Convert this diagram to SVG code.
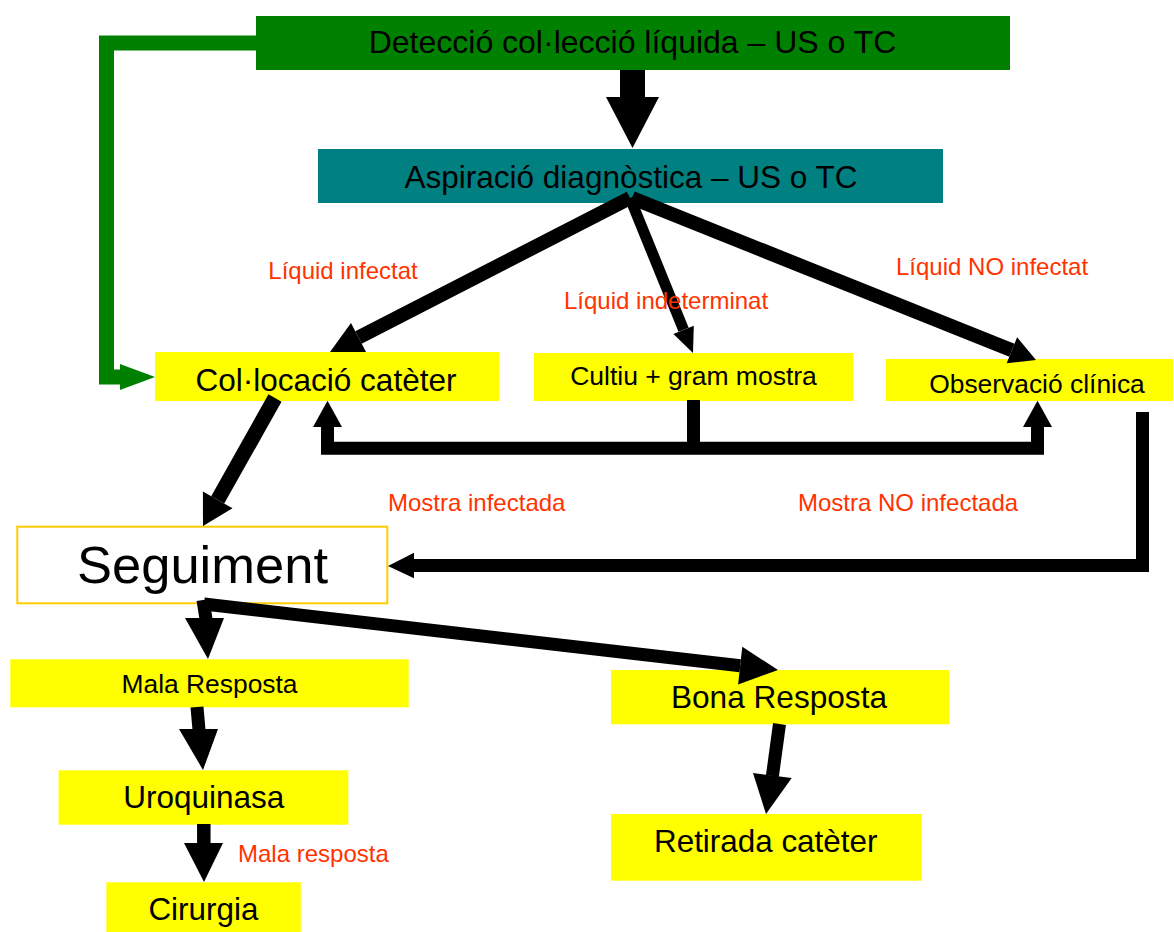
<svg xmlns="http://www.w3.org/2000/svg" width="1174" height="932" viewBox="0 0 1174 932">
  <style>
    text { font-family: "Liberation Sans", Arial, sans-serif; fill: #000; }
    .mid { text-anchor: middle; }
    .lbl { fill: #FF3300; font-size: 24px; }
    .yel { fill: #FFFF00; }
    .ln { fill: none; stroke: #000; stroke-linecap: butt; stroke-linejoin: miter; }
    .hd { fill: #000; }
  </style>
  <rect width="1174" height="932" fill="#FFFFFF"/>

  <g id="green-link">
    <polyline points="258,43 106.5,43 106.5,377 122,377" fill="none" stroke="#008000" stroke-width="15" stroke-linejoin="miter"/>
    <polygon points="120,364 155,377 120,390" fill="#008000"/>
  </g>

  <g id="n-deteccio">
    <rect x="256" y="16" width="754" height="54" fill="#008000"/>
    <text class="mid" x="632.5" y="53.3" font-size="32">Detecció col·lecció líquida – US o TC</text>
  </g>
  <g id="n-aspiracio">
    <rect x="318" y="149" width="625" height="54" fill="#008080"/>
    <text class="mid" x="631" y="188" font-size="31.5">Aspiració diagnòstica – US o TC</text>
  </g>
  <g id="n-collocacio">
    <rect class="yel" x="155" y="352" width="344" height="49"/>
    <text class="mid" x="326" y="390.7" font-size="31.5">Col·locació catèter</text>
  </g>
  <g id="n-cultiu">
    <rect class="yel" x="534" y="353" width="319" height="48"/>
    <text class="mid" x="693.5" y="385" font-size="26.5">Cultiu + gram mostra</text>
  </g>
  <g id="n-observacio">
    <rect class="yel" x="886" y="359" width="287" height="42"/>
    <text class="mid" x="1037" y="392.7" font-size="26.4">Observació clínica</text>
  </g>
  <g id="n-seguiment">
    <rect x="17.3" y="526.7" width="370" height="76.6" fill="#FFFFFF" stroke="#FFCC00" stroke-width="2"/>
    <text class="mid" x="202.5" y="583.3" font-size="52.5">Seguiment</text>
  </g>
  <g id="n-mala">
    <rect class="yel" x="10.3" y="659.3" width="398.4" height="48"/>
    <text class="mid" x="209.5" y="692.7" font-size="26.4">Mala Resposta</text>
  </g>
  <g id="n-uroquinasa">
    <rect class="yel" x="58.6" y="770.3" width="289.7" height="54.4"/>
    <text class="mid" x="203.7" y="808.3" font-size="31.5">Uroquinasa</text>
  </g>
  <g id="n-cirurgia">
    <rect class="yel" x="106.4" y="882.3" width="194.4" height="52"/>
    <text class="mid" x="203.4" y="920" font-size="31.4">Cirurgia</text>
  </g>
  <g id="n-bona">
    <rect class="yel" x="611" y="670" width="338" height="54.3"/>
    <text class="mid" x="779" y="708.3" font-size="31.6">Bona Resposta</text>
  </g>
  <g id="n-retirada">
    <rect class="yel" x="611" y="814" width="310.7" height="66.7"/>
    <text class="mid" x="765.7" y="852.3" font-size="31.4">Retirada catèter</text>
  </g>

  <g id="connectors">
    <!-- deteccio -> aspiracio -->
    <rect x="620" y="70" width="25" height="28" class="hd"/>
    <polygon class="hd" points="606,97 659,97 632.5,148"/>
    <!-- aspiracio -> collocacio -->
    <line class="ln" x1="630" y1="198" x2="358.5" y2="337.4" stroke-width="14"/>
    <polygon class="hd" points="330,352 366,352 351,323"/>
    <!-- aspiracio -> cultiu -->
    <line class="ln" x1="630" y1="198" x2="683.6" y2="329.8" stroke-width="11"/>
    <polygon class="hd" points="693,353 673.4,333.9 693.8,325.7"/>
    <!-- aspiracio -> observacio -->
    <line class="ln" x1="632" y1="198" x2="1011.9" y2="350.3" stroke-width="14"/>
    <polygon class="hd" points="1036,360 1006.7,363.3 1017.1,337.3"/>
    <!-- cultiu -> bracket -> collocacio / observacio -->
    <line class="ln" x1="693.5" y1="400" x2="693.5" y2="448" stroke-width="13"/>
    <polyline class="ln" points="327.5,426 327.5,448.3 1037.5,448.3 1037.5,426" stroke-width="13"/>
    <polygon class="hd" points="313,427 342,427 327.5,400.7"/>
    <polygon class="hd" points="1023,427 1052,427 1037.5,400.7"/>
    <!-- collocacio -> seguiment -->
    <line class="ln" x1="275" y1="398" x2="217.7" y2="499.9" stroke-width="15"/>
    <polygon class="hd" points="203,526 232.5,508.2 202.9,491.6"/>
    <!-- observacio -> seguiment -->
    <polyline class="ln" points="1142.5,412 1142.5,565.5 413,565.5" stroke-width="13"/>
    <polygon class="hd" points="388,566 414,552.7 414,578.3"/>
    <!-- seguiment -> mala -->
    <line class="ln" x1="203" y1="600" x2="206" y2="619" stroke-width="13"/>
    <polygon class="hd" points="185,618 224,618 208,659"/>
    <!-- seguiment -> bona -->
    <line class="ln" x1="204" y1="604" x2="740.2" y2="665.7" stroke-width="13"/>
    <polygon class="hd" points="778,670 738.1,684.6 742.3,646.8"/>
    <!-- mala -> uroquinasa -->
    <line class="ln" x1="197" y1="707" x2="199" y2="730" stroke-width="13"/>
    <polygon class="hd" points="179,729 218,729 203,770"/>
    <!-- uroquinasa -> cirurgia -->
    <line class="ln" x1="203.8" y1="824" x2="203.8" y2="844" stroke-width="13.5"/>
    <polygon class="hd" points="184,843 223,843 204,882"/>
    <!-- bona -> retirada -->
    <line class="ln" x1="779.5" y1="724" x2="772.4" y2="776" stroke-width="13"/>
    <polygon class="hd" points="753,773 791.7,778 766,814"/>
  </g>

  <g id="labels">
    <text class="lbl" x="268.3" y="279.3">Líquid infectat</text>
    <text class="lbl" x="564" y="309">Líquid indeterminat</text>
    <text class="lbl" x="896" y="275">Líquid NO infectat</text>
    <text class="lbl" x="388" y="510.7">Mostra infectada</text>
    <text class="lbl" x="798" y="510.7">Mostra NO infectada</text>
    <text class="lbl" x="238" y="861.7">Mala resposta</text>
  </g>
</svg>
